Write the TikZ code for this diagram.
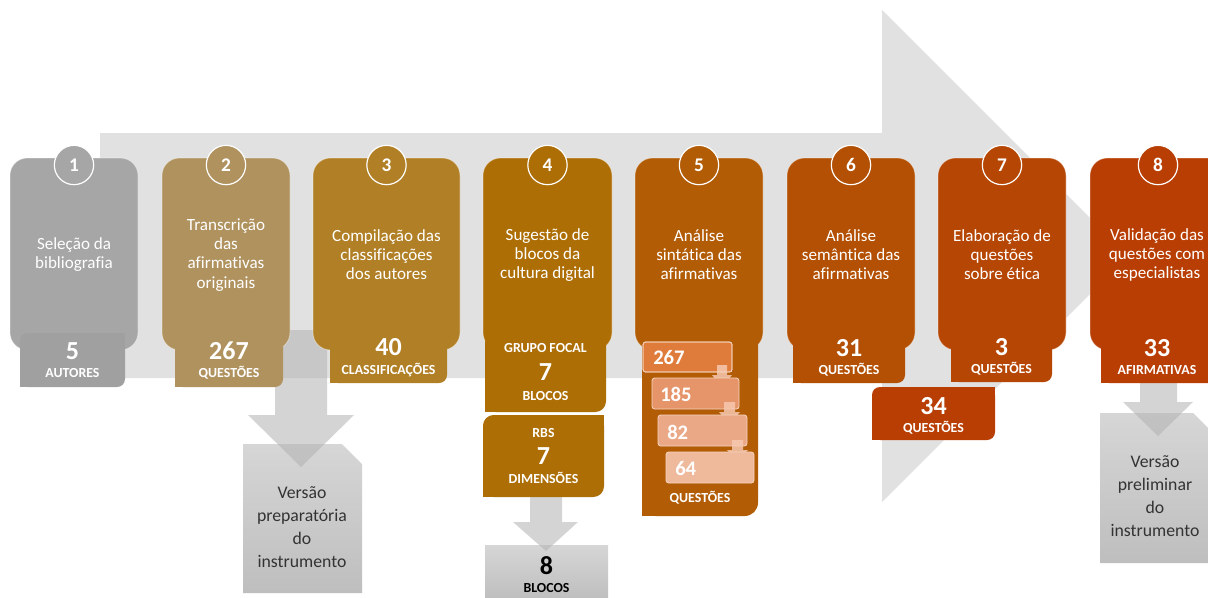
\documentclass[tikz,border=0pt]{standalone}
\usepackage{fontspec}
\setmainfont{Carlito}[Ligatures=NoCommon]
\definecolor{bgarrow}{HTML}{E1E1E1}
\definecolor{c1}{HTML}{A6A6A6}
\definecolor{c1d}{HTML}{A0A0A0}
\definecolor{c2}{HTML}{B0925F}
\definecolor{c3}{HTML}{B18026}
\definecolor{c4}{HTML}{AD6E06}
\definecolor{c5}{HTML}{B25C06}
\definecolor{c6}{HTML}{B35003}
\definecolor{c7}{HTML}{B64604}
\definecolor{c8}{HTML}{B83E04}
\definecolor{i1}{HTML}{DF7C3C}
\definecolor{i2}{HTML}{E6946A}
\definecolor{i3}{HTML}{EBA887}
\definecolor{i4}{HTML}{EFB99C}
\definecolor{iborder}{HTML}{F6D5C0}
\definecolor{sarrow}{HTML}{F6C8B0}
\definecolor{txtgray}{HTML}{333333}
\definecolor{doctop}{HTML}{D6D6D6}
\definecolor{docbot}{HTML}{BEBEBE}
% color, x1, y1, x2, y2, radius (pt), radius (px)
\newcommand\subbox[7]{%
  \fill[#1, rounded corners=#6] (#2,#3) rectangle (#4,#5);
  \fill[#1] (#4,#3) rectangle ++(-#7,#7);
  \fill[#1] (#2,#5) rectangle ++(#7,-#7);}
\begin{document}
\begin{tikzpicture}[x=0.75pt,y=-0.75pt,
  stepbox/.style={rectangle, rounded corners=13pt, draw=white, draw opacity=0.45, line width=0.6pt, inner sep=0pt},
  steptext/.style={text=white, align=center, font=\fontsize{12.8}{14.3}\selectfont, inner sep=0pt},
  numc/.style={circle, draw=white, line width=0.9pt, minimum size=29.5pt, inner sep=0pt, text=white, font=\fontsize{14.5}{15}\selectfont\bfseries},
  bignum/.style={text=white, font=\fontsize{19.5}{21}\selectfont\bfseries, anchor=base, inner sep=0pt},
  lab/.style={text=white, font=\fontsize{10.4}{11}\selectfont\bfseries, anchor=base, inner sep=0pt},
  innum/.style={text=white, font=\fontsize{15.5}{17}\selectfont\bfseries, anchor=base west, inner sep=0pt},
  doctext/.style={text=txtgray, align=center, font=\fontsize{13.3}{17.2}\selectfont, inner sep=0pt},
  darrow/.style={fill=gray!60, fill opacity=0.55},
  sarr/.style={fill=sarrow, fill opacity=0.85},
  inbox/.style={draw=iborder, line width=0.6pt, rounded corners=2pt},
]
\clip (0,0) rectangle (1208,597);
\fill[white] (0,0) rectangle (1208,597);

% big background arrow
\fill[bgarrow] (100,133) -- (882,133) -- (882,10) -- (1128,256) -- (882,502) -- (882,378) -- (100,378) -- cycle;

% document shapes
\shade[top color=doctop, bottom color=docbot] (243,444) -- (342,444) -- (362,464) -- (362,593) -- (243,593) -- cycle;
\node[doctext] (doc2) at (302,527) {Versão\\preparatória\\do\\instrumento};
\shade[top color=doctop, bottom color=docbot] (1100,413) -- (1193,413) -- (1212,432) -- (1212,563) -- (1100,563) -- cycle;
\node[doctext] (doc8) at (1155,496) {Versão\\preliminar\\do\\instrumento};
\shade[top color=doctop, bottom color=docbot] (485,545) -- (608,545) -- (608,600) -- (485,600) -- cycle;
\node[bignum, text=black] (b8n) at (546.5,574) {8};
\node[lab, text=black] (b8l) at (546.5,592) {BLOCOS};

% grey down arrows
\fill[darrow] (275,330) -- (327,330) -- (327,415) -- (354,415) -- (301,467) -- (248,415) -- (275,415) -- cycle;
\fill[darrow] (530,490) -- (562,490) -- (562,522) -- (578,522) -- (546,551) -- (513,522) -- (530,522) -- cycle;
\fill[darrow] (1140,375) -- (1177,375) -- (1177,402) -- (1193,402) -- (1158,436) -- (1123,402) -- (1140,402) -- cycle;

% step boxes
\node[stepbox, fill=c1, minimum width=96pt, minimum height=144pt] (b1) at (74,254) {};
\node[stepbox, fill=c2, minimum width=96pt, minimum height=144pt] (b2) at (226,254) {};
\node[stepbox, fill=c3, minimum width=110.25pt, minimum height=144pt] (b3) at (386.5,254) {};
\node[stepbox, fill=c4, minimum width=96.75pt, minimum height=144pt] (b4) at (547.5,254) {};
\node[stepbox, fill=c5, minimum width=96pt, minimum height=144pt] (b5) at (699,254) {};
\node[stepbox, fill=c6, minimum width=96pt, minimum height=144pt] (b6) at (851,254) {};
\node[stepbox, fill=c7, minimum width=96pt, minimum height=144pt] (b7) at (1002,254) {};
\node[stepbox, fill=c8, minimum width=102pt, minimum height=144pt] (b8) at (1158,254) {};

% circles
\node[numc, fill=c1] (n1) at (74,165) {1};
\node[numc, fill=c2] (n2) at (226,165) {2};
\node[numc, fill=c3] (n3) at (386.5,165) {3};
\node[numc, fill=c4] (n4) at (547.5,165) {4};
\node[numc, fill=c5] (n5) at (699,165) {5};
\node[numc, fill=c6] (n6) at (851,165) {6};
\node[numc, fill=c7] (n7) at (1002,165) {7};
\node[numc, fill=c8] (n8) at (1158,165) {8};

% step texts
\node[steptext] (t1) at (74,255) {Seleção da\\bibliografia};
\node[steptext] (t2) at (226,255) {Transcrição\\das\\afirmativas\\originais};
\node[steptext] (t3) at (386.5,255) {Compilação das\\classificações\\dos autores};
\node[steptext] (t4) at (547.5,255) {Sugestão de\\blocos da\\cultura digital};
\node[steptext] (t5) at (699,255) {Análise\\sintática das\\afirmativas};
\node[steptext] (t6) at (851,255) {Análise\\semântica das\\afirmativas};
\node[steptext] (t7) at (1002,255) {Elaboração de\\questões\\sobre ética};
\node[steptext] (t8) at (1157,255) {Validação das\\questões com\\especialistas};

% sub boxes
\subbox{c1d}{20}{333}{125}{387}{6pt}{8}
\node[bignum] (s1n) at (72.5,359) {5};
\node[lab] (s1l) at (72.5,377) {AUTORES};

\subbox{c2}{175}{333}{283}{387}{6pt}{8}
\node[bignum] (s2n) at (229,359) {267};
\node[lab] (s2l) at (229,377) {QUESTÕES};

\subbox{c3}{330}{328}{447}{383}{6pt}{8}
\node[bignum] (s3n) at (388.5,355) {40};
\node[lab] (s3l) at (388.5,374) {CLASSIFICAÇÕES};

\subbox{c4}{485}{332}{606}{412}{8pt}{11}
\node[lab] (s4at) at (545.5,352) {GRUPO FOCAL};
\node[bignum] (s4an) at (545.5,380) {7};
\node[lab] (s4al) at (545.5,400) {BLOCOS};

\subbox{c4}{483}{415}{604}{497}{8pt}{11}
\node[lab] (s4bt) at (543.5,437) {RBS};
\node[bignum] (s4bn) at (543.5,464) {7};
\node[lab] (s4bl) at (543.5,483) {DIMENSÕES};

\subbox{c5}{642}{332}{758}{516}{10pt}{14}
\fill[inbox, fill=i1] (643,342) rectangle (732,372);
\fill[sarr] (717,365) -- (727,365) -- (727,375) -- (732,375) -- (722,387) -- (712,375) -- (717,375) -- cycle;
\draw[inbox, fill=i2] (652,378) rectangle (739,409);
\fill[sarr] (724,402) -- (735,402) -- (735,412) -- (740,412) -- (729.5,424) -- (719,412) -- (724,412) -- cycle;
\draw[inbox, fill=i3] (658,415) rectangle (747,446);
\fill[sarr] (732,440) -- (743,440) -- (743,450) -- (748,450) -- (737.5,462) -- (727,450) -- (732,450) -- cycle;
\draw[inbox, fill=i4] (666,452) rectangle (754,483);
\draw[inbox] (643,342) rectangle (732,372);
\node[innum] (i1n) at (653,364) {267};
\node[innum] (i2n) at (660,401) {185};
\node[innum] (i3n) at (667,439) {82};
\node[innum] (i4n) at (675,475) {64};
\node[lab] (s5l) at (700,502) {QUESTÕES};

\subbox{c6}{793}{328}{905}{383}{6pt}{8}
\node[bignum] (s6n) at (849,356) {31};
\node[lab] (s6l) at (849,374) {QUESTÕES};

\subbox{c7}{951}{327}{1052}{382}{6pt}{8}
\node[bignum] (s7n) at (1001.5,355) {3};
\node[lab] (s7l) at (1001.5,373) {QUESTÕES};

\subbox{c8}{872}{387}{995}{440}{6pt}{8}
\node[bignum] (s34n) at (933.5,414) {34};
\node[lab] (s34l) at (933.5,432) {QUESTÕES};

\subbox{c8}{1101}{328}{1225}{383}{6pt}{8}
\node[bignum] (s8n) at (1157,356) {33};
\node[lab] (s8l) at (1157,374) {AFIRMATIVAS};
\end{tikzpicture}
\end{document}
